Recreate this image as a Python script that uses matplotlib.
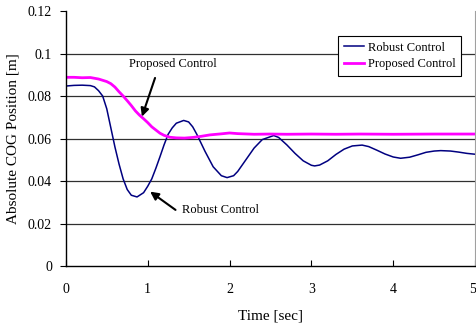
import matplotlib
matplotlib.use('Agg')
import matplotlib.pyplot as plt
import matplotlib.transforms as mtransforms

plt.rcParams['font.family'] = ['Liberation Serif', 'DejaVu Serif']

# Robust Control (navy)
robust_t = [0, 0.1, 0.2, 0.3, 0.35, 0.4, 0.45, 0.5, 0.55, 0.6, 0.65, 0.7, 0.75, 0.8, 0.87,
            0.95, 1.0, 1.05, 1.1, 1.15, 1.2, 1.25, 1.3, 1.35, 1.44, 1.5, 1.55, 1.6, 1.7, 1.8,
            1.9, 1.97, 2.05, 2.1, 2.2, 2.3, 2.4, 2.54, 2.6, 2.7, 2.8, 2.9, 3.0, 3.04, 3.1,
            3.2, 3.3, 3.4, 3.5, 3.62, 3.7, 3.8, 3.9, 4.0, 4.09, 4.2, 4.3, 4.4, 4.5, 4.58,
            4.7, 4.8, 4.9, 5.0]
robust_y = [0.0847, 0.0850, 0.0851, 0.0849, 0.0843, 0.0825, 0.0800, 0.0740, 0.0650, 0.0560,
            0.0480, 0.0410, 0.0360, 0.0333, 0.0325, 0.0345, 0.0375, 0.0410, 0.0460, 0.0514,
            0.0570, 0.0620, 0.0650, 0.0672, 0.0685, 0.0678, 0.0655, 0.0620, 0.0540, 0.0467,
            0.0425, 0.0416, 0.0425, 0.0445, 0.0500, 0.0555, 0.0595, 0.0614, 0.0605, 0.0570,
            0.0530, 0.0495, 0.0474, 0.0471, 0.0475, 0.0495, 0.0525, 0.0550, 0.0565, 0.0569,
            0.0562, 0.0545, 0.0527, 0.0513, 0.0507, 0.0512, 0.0523, 0.0535, 0.0541, 0.0543,
            0.0541, 0.0536, 0.0530, 0.0526]

# Proposed Control (magenta)
proposed_t = [0, 0.1, 0.2, 0.3, 0.4, 0.5, 0.55, 0.6, 0.65, 0.7, 0.75, 0.8, 0.85, 0.9, 0.95,
              1.0, 1.05, 1.1, 1.15, 1.2, 1.27, 1.35, 1.45, 1.55, 1.65, 1.76, 1.9, 2.0, 2.1,
              2.3, 2.5, 2.7, 3.0, 3.3, 3.6, 4.0, 4.5, 5.0]
proposed_y = [0.0888, 0.0888, 0.0886, 0.0887, 0.0880, 0.0868, 0.0858, 0.0842, 0.0820, 0.0800,
              0.0778, 0.0755, 0.0730, 0.0710, 0.0693, 0.0675, 0.0655, 0.0640, 0.0625, 0.0615,
              0.0606, 0.0603, 0.0602, 0.0605, 0.0610, 0.0617, 0.0622, 0.0626, 0.0623, 0.0620,
              0.0621, 0.0620, 0.0621, 0.0620, 0.0621, 0.0620, 0.0621, 0.0621]

fig = plt.figure(figsize=(4.77, 3.29), dpi=100)
ax = fig.add_axes([0.138, 0.1915, 0.858, 0.775])

for yv in [0.02, 0.04, 0.06, 0.08, 0.1]:
    ax.axhline(yv, color='#303030', lw=0.9, zorder=0)

ax.plot(robust_t, robust_y, color='#000080', lw=1.1, label='Robust Control')
ax.plot(proposed_t, proposed_y, color='#ff00ff', lw=2.0, label='Proposed Control')

ax.set_xlim(0, 5)
ax.set_ylim(0, 0.12)
ax.set_xticks([0, 1, 2, 3, 4, 5])
ax.set_yticks([0, 0.02, 0.04, 0.06, 0.08, 0.1, 0.12])
ax.set_yticklabels(['0', '0.02', '0.04', '0.06', '0.08', '0.1', '0.12'])
ax.tick_params(axis='x', direction='in', length=4, labelsize=10, pad=12)
ax.tick_params(axis='y', direction='out', length=4, labelsize=10, pad=6)

# keep the last x label inside the figure
last = ax.get_xticklabels()[-1]
last.set_transform(last.get_transform() +
                   mtransforms.ScaledTranslation(-3 / 100, 0, fig.dpi_scale_trans))

ax.spines['top'].set_visible(False)
ax.spines['right'].set_color('#a0a0a0')
ax.spines['left'].set_linewidth(1.0)
ax.spines['bottom'].set_linewidth(1.0)

ax.set_xlabel('Time [sec]', fontsize=11, labelpad=10)
ax.set_ylabel('Absolute COG Position [m]', fontsize=11, labelpad=6)

# annotations: label text + separate arrow
arrow = dict(arrowstyle='-|>', color='black', lw=1.5, shrinkA=0, shrinkB=0,
             mutation_scale=12)
ax.text(1.31, 0.0951, 'Proposed Control', ha='center', va='center', fontsize=9)
ax.annotate('', xy=(0.93, 0.0703), xytext=(1.09, 0.0885), arrowprops=arrow)
ax.text(1.89, 0.0262, 'Robust Control', ha='center', va='center', fontsize=9)
ax.annotate('', xy=(1.03, 0.035), xytext=(1.34, 0.0264), arrowprops=arrow)

leg = ax.legend(loc='upper right', bbox_to_anchor=(0.966, 0.902), fontsize=9,
                fancybox=False, framealpha=1, edgecolor='black', borderaxespad=0,
                handlelength=1.6, handletextpad=0.3, borderpad=0.45, labelspacing=0.35)
leg.get_frame().set_linewidth(0.8)

fig.savefig('out.png', dpi=100)
